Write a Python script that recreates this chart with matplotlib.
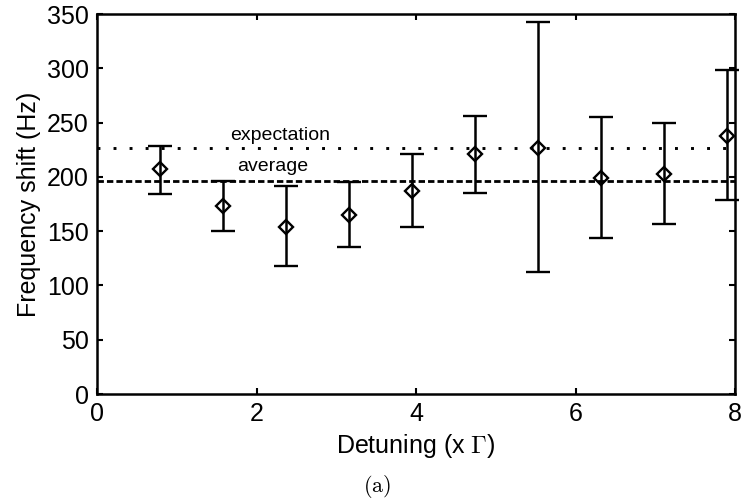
import matplotlib
matplotlib.use("Agg")
import numpy as np
import matplotlib.pyplot as plt

# measured frequency shift vs detuning
detuning = [0.79, 1.58, 2.37, 3.16, 3.95, 4.74, 5.53, 6.32, 7.11, 7.90]
shift = [207, 173, 154, 165, 187, 221, 227, 199, 203, 238]
err_low = [184, 150, 118, 135, 154, 185, 112, 144, 157, 179]
err_high = [228, 196, 192, 195, 221, 256, 343, 255, 250, 298]

expectation = 226.5
average = 196

# 図の書式設定
plt.rcParams["font.family"] = ["Liberation Sans", "DejaVu Sans"]
plt.rcParams["mathtext.fontset"] = "cm"
plt.rcParams["font.size"] = 18
plt.rcParams["xtick.direction"] = "in"
plt.rcParams["ytick.direction"] = "in"
plt.rcParams["xtick.top"] = True
plt.rcParams["ytick.right"] = True
plt.rcParams["xtick.major.size"] = 4.5
plt.rcParams["ytick.major.size"] = 4.5
plt.rcParams["xtick.major.width"] = 1.5
plt.rcParams["ytick.major.width"] = 1.5
plt.rcParams["axes.linewidth"] = 1.8

fig = plt.figure(figsize=(7.41, 5.0), dpi=100)
ax = fig.add_axes([97 / 741, 1 - 394 / 500, 638 / 741, 380 / 500])

# 基準線
ax.axhline(expectation, color="black", lw=2.1, linestyle=(0, (1, 4.5)))
ax.axhline(average, color="black", lw=2.0, linestyle=(0, (2.3, 1.1)))

y = np.array(shift)
yerr = [y - np.array(err_low), np.array(err_high) - y]
ax.errorbar(detuning, shift, yerr=yerr, fmt="D", color="black", mfc="none",
            mec="black", ms=7, mew=1.7, elinewidth=1.8, capsize=8.5, capthick=1.8,
            clip_on=False, zorder=3)

ax.text(2.3, 238.5, "expectation", ha="center", va="center", fontsize=14)
ax.text(2.2, 210, "average", ha="center", va="center", fontsize=14)

ax.set_xlim(0, 8)
ax.set_ylim(0, 350)
ax.set_xticks([0, 2, 4, 6, 8])
ax.set_yticks(np.arange(0, 351, 50))
ax.tick_params(pad=6)
ax.set_xlabel(r"Detuning (x $\Gamma$)", labelpad=4)
ax.set_ylabel("Frequency shift (Hz)", labelpad=4)

fig.text(377 / 741, 1 - 486 / 500, r"$\mathrm{(a)}$", ha="center", va="center", fontsize=16)

fig.savefig("out.png", dpi=100)
